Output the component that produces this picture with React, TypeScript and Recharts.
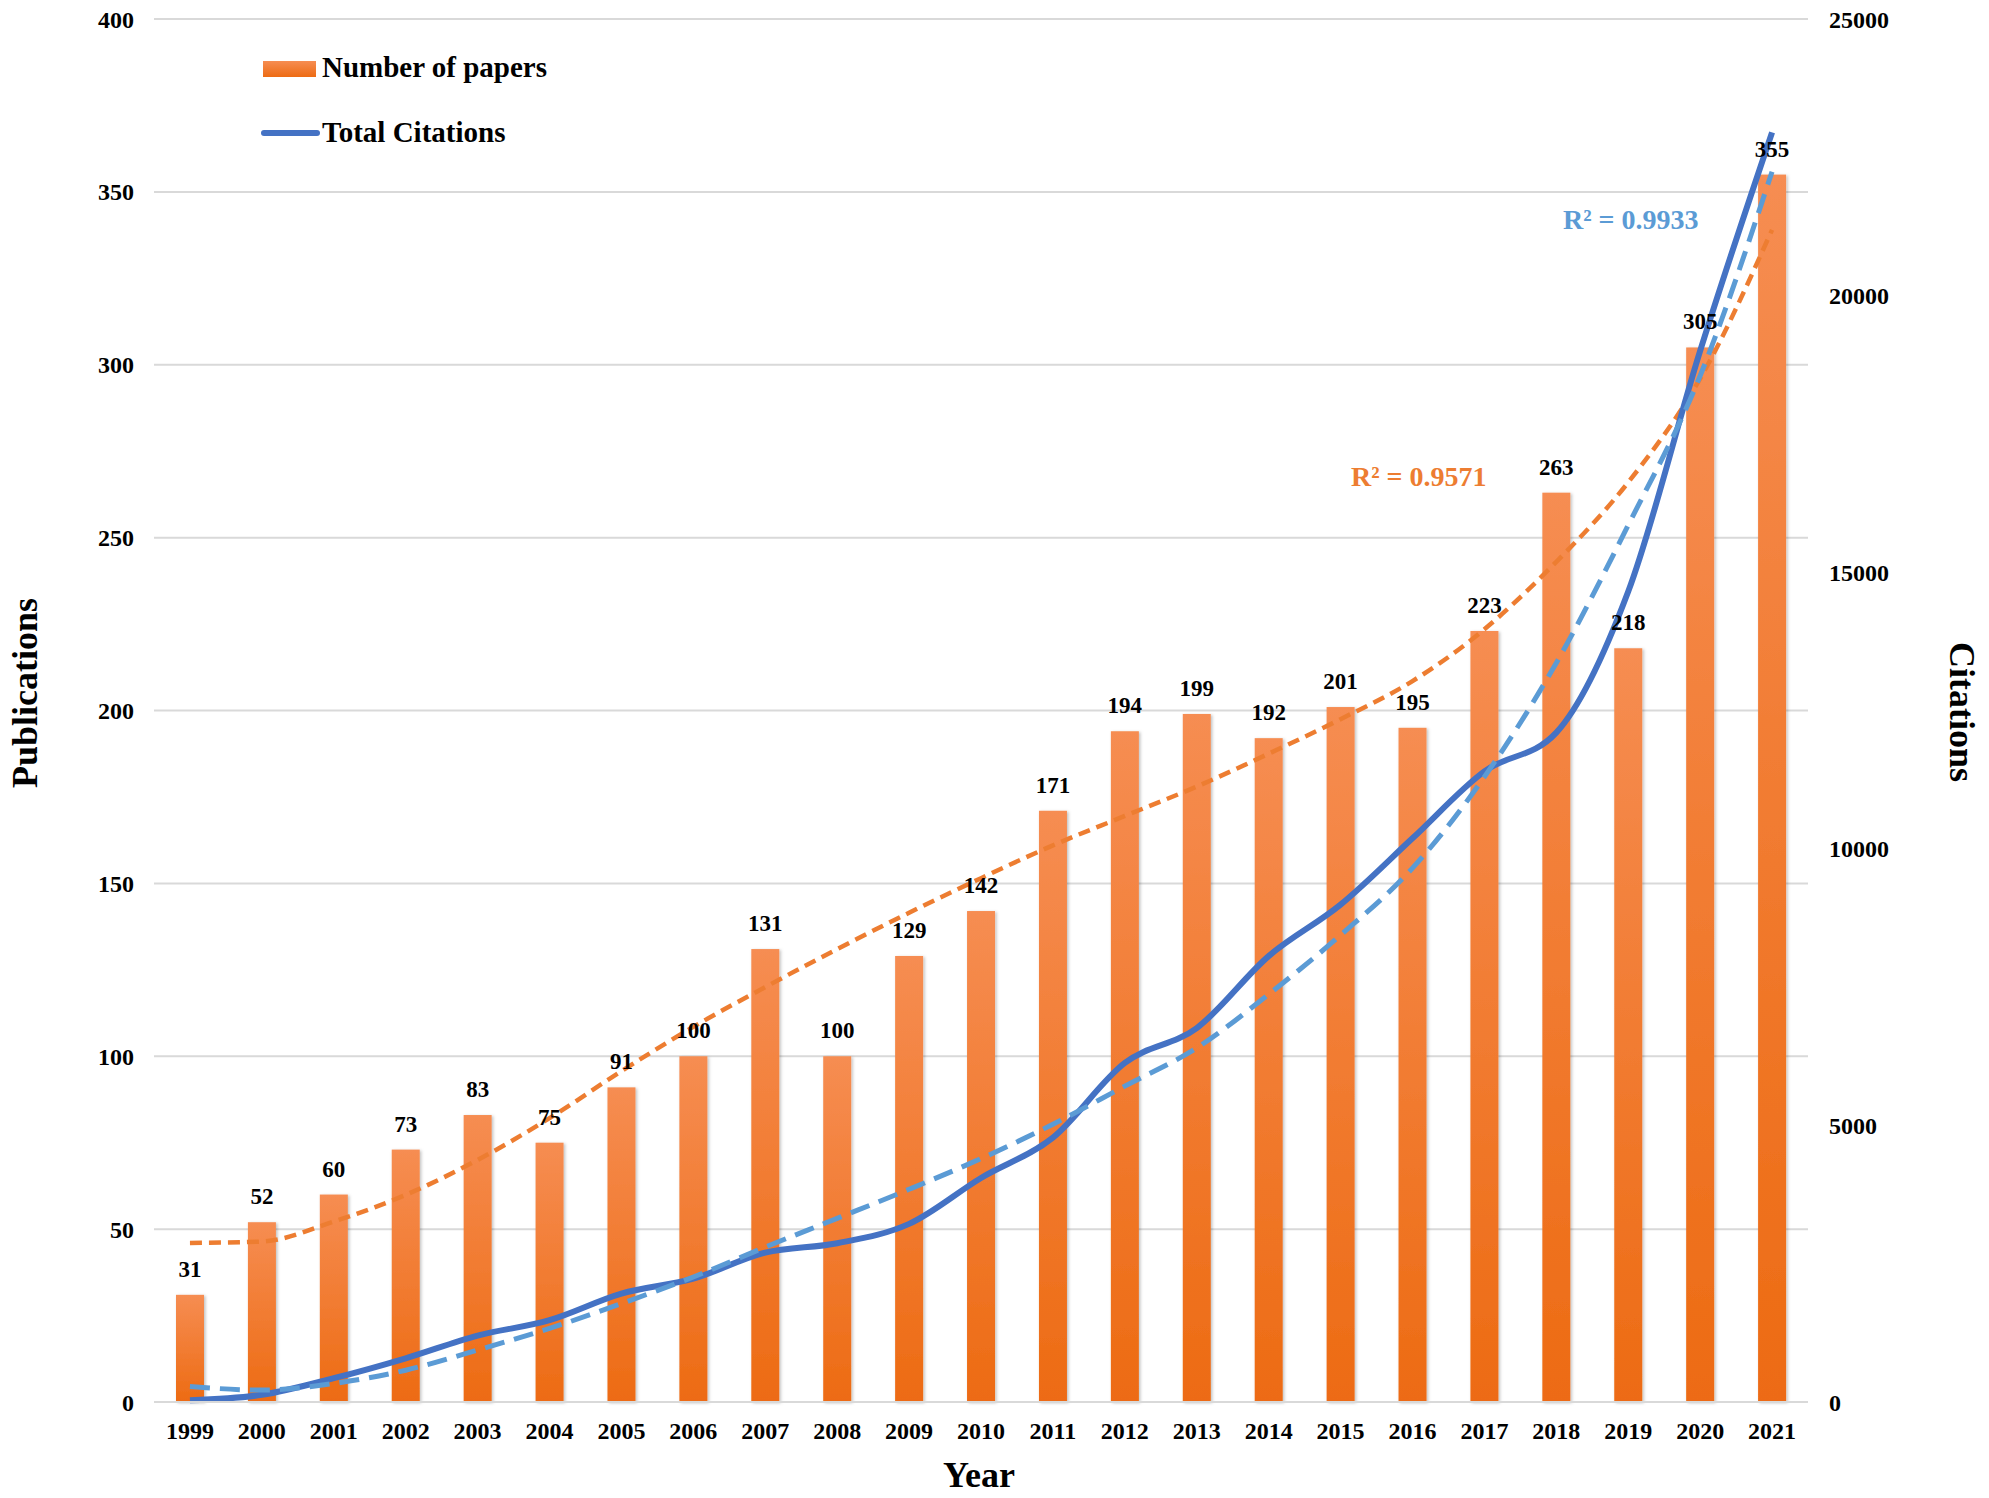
import {
  ComposedChart, Bar, Line, XAxis, YAxis, CartesianGrid, LabelList, Legend,
} from "recharts";

// 연도별 논문 수 / 총 인용 수
const YEARS = [
  "1999", "2000", "2001", "2002", "2003", "2004", "2005", "2006", "2007", "2008", "2009", "2010",
  "2011", "2012", "2013", "2014", "2015", "2016", "2017", "2018", "2019", "2020", "2021",
];
const PAPERS = [31, 52, 60, 73, 83, 75, 91, 100, 131, 100, 129, 142, 171, 194, 199, 192, 201, 195, 223, 263, 218, 305, 355];
const CITATIONS = [
  30, 130, 430, 790, 1200, 1480, 1960, 2230, 2700, 2870, 3220, 4050,
  4780, 6130, 6760, 8060, 8990, 10190, 11400, 12100, 14650, 19000, 22950,
];
// 추세선 (그림에서 연도별로 읽음)
const PAPERS_TREND = [46, 46.4, 52.2, 59.9, 70, 82.1, 95.7, 108.5, 120, 131, 141.5, 151.5, 161, 169.5, 178, 187.5, 197.5, 208.5, 223.5, 243, 266, 296, 339];
const CITATIONS_TREND = [
  280, 215, 335, 575, 940, 1330, 1780, 2260, 2800, 3320, 3845, 4400,
  5020, 5710, 6400, 7370, 8440, 9650, 11300, 13360, 15850, 18550, 22240,
];
const LEFT_TICKS = [0, 50, 100, 150, 200, 250, 300, 350, 400];
const RIGHT_TICKS = [0, 5000, 10000, 15000, 20000, 25000];

const FONT = "'Times New Roman', 'Liberation Serif', serif";
const ORANGE = "#ED7D31";
const BLUE = "#4472C4";
const LIGHT_BLUE = "#5B9BD5";

const data = YEARS.map((year, i) => ({
  year,
  papers: PAPERS[i],
  citations: CITATIONS[i],
  papersTrend: PAPERS_TREND[i],
  citationsTrend: CITATIONS_TREND[i],
}));

const tickStyle = { fontSize: 24, fontWeight: "bold", fill: "#000", fontFamily: FONT };

function BarShape(props: any) {
  const { x, y, width, height } = props;
  if (!height || height <= 0) return null;
  return (
    <rect x={x} y={y} width={width} height={height} fill="url(#barGrad)" filter="url(#barShadow)" />
  );
}

function LegendBox() {
  return (
    <svg width={700} height={170} style={{ fontFamily: FONT }}>
      <defs>
        <linearGradient id="legendGrad" x1="0" y1="0" x2="0" y2="1">
          <stop offset="0%" stopColor="#F68D52" />
          <stop offset="100%" stopColor="#ED6B13" />
        </linearGradient>
      </defs>
      <rect x={263} y={61} width={53} height={16} fill="url(#legendGrad)" />
      <text x={322} y={77} fontSize={29} fontWeight="bold" fill="#000">Number of papers</text>
      <line x1={264} x2={317} y1={133} y2={133} stroke={BLUE} strokeWidth={6} strokeLinecap="round" />
      <text x={322} y={142} fontSize={29} fontWeight="bold" fill="#000">Total Citations</text>
    </svg>
  );
}

export default function App() {
  return (
    <div style={{ position: "absolute", left: 0, top: 0, width: 1989, height: 1498, background: "#fff" }}>
      <ComposedChart
        width={1989}
        height={1498}
        data={data}
        margin={{ top: 19, right: 61, bottom: 36, left: 74 }}
        style={{ fontFamily: FONT }}
      >
        <defs>
          <linearGradient id="barGrad" x1="0" y1="0" x2="0" y2="1">
            <stop offset="0%" stopColor="#F68D52" />
            <stop offset="100%" stopColor="#ED6B13" />
          </linearGradient>
          <filter id="barShadow" x="-30%" y="-5%" width="160%" height="110%">
            <feDropShadow dx="1.5" dy="1" stdDeviation="1.5" floodColor="#000" floodOpacity="0.25" />
          </filter>
        </defs>
        <CartesianGrid vertical={false} stroke="#D9D9D9" strokeWidth={2} />
        <XAxis
          dataKey="year"
          height={60}
          interval={0}
          tickLine={false}
          axisLine={{ stroke: "#D9D9D9", strokeWidth: 2 }}
          tickMargin={14}
          tick={tickStyle}
        />
        <YAxis
          domain={[0, 400]}
          ticks={LEFT_TICKS}
          width={80}
          tickLine={false}
          axisLine={false}
          tickMargin={14}
          tick={tickStyle}
        />
        <YAxis
          yAxisId="right"
          orientation="right"
          domain={[0, 25000]}
          ticks={RIGHT_TICKS}
          width={120}
          tickLine={false}
          axisLine={false}
          tickMargin={15}
          tick={tickStyle}
        />
        <Legend
          layout="vertical"
          align="center"
          verticalAlign="middle"
          wrapperStyle={{ left: 0, top: 0, width: 700, height: 170 }}
          content={() => <LegendBox />}
        />
        <Bar dataKey="papers" name="Number of papers" barSize={28} shape={<BarShape />} isAnimationActive={false}>
          <LabelList
            dataKey="papers"
            position="top"
            offset={18}
            style={{ fontSize: 23, fontWeight: "bold", fill: "#000", fontFamily: FONT }}
          />
        </Bar>
        <Line
          dataKey="papersTrend"
          type="monotone"
          stroke={ORANGE}
          strokeWidth={4.5}
          strokeDasharray="12 7"
          dot={false}
          activeDot={false}
          legendType="none"
          isAnimationActive={false}
        />
        <Line
          yAxisId="right"
          dataKey="citations"
          name="Total Citations"
          type="monotone"
          stroke={BLUE}
          strokeWidth={6}
          dot={false}
          activeDot={false}
          isAnimationActive={false}
        />
        <Line
          yAxisId="right"
          dataKey="citationsTrend"
          type="monotone"
          stroke={LIGHT_BLUE}
          strokeWidth={5}
          strokeDasharray="20 10"
          dot={false}
          activeDot={false}
          legendType="none"
          isAnimationActive={false}
        />
      </ComposedChart>

      {/* 축 제목, R² 표시 */}
      <svg
        width={1989}
        height={1498}
        style={{ position: "absolute", left: 0, top: 0, pointerEvents: "none", fontFamily: FONT }}
      >
        <text transform="translate(37,693) rotate(-90)" textAnchor="middle" fontSize={36} fontWeight="bold" fill="#000">
          Publications
        </text>
        <text transform="translate(1950,712) rotate(90)" textAnchor="middle" fontSize={36} fontWeight="bold" fill="#000">
          Citations
        </text>
        <text x={979} y={1487} textAnchor="middle" fontSize={36} fontWeight="bold" fill="#000">Year</text>
        <text x={1563} y={229} fontSize={28} fontWeight="bold" fill={LIGHT_BLUE}>R² = 0.9933</text>
        <text x={1351} y={486} fontSize={28} fontWeight="bold" fill={ORANGE}>R² = 0.9571</text>
      </svg>
    </div>
  );
}
